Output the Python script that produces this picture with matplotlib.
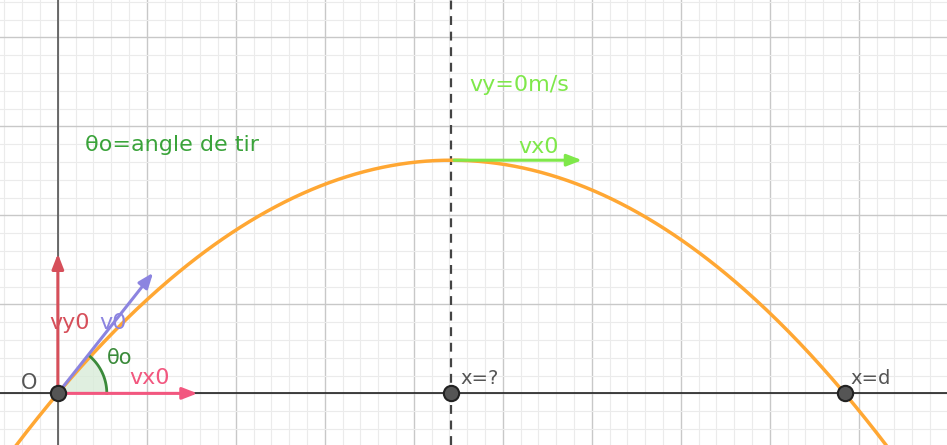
import numpy as np
import matplotlib.pyplot as plt
from matplotlib.patches import Wedge

# trajectoire (unites de grille)
portee = 8.84
hauteur_max = 2.62
x_sommet = portee / 2
vx0_bout = (1.6, 0.0)
vy0_bout = (0.0, 1.6)
v0_bout = (1.09, 1.38)
vx0_sommet_long = 1.5
points_x = [0.0, x_sommet, portee]

fig = plt.figure(figsize=(9.47, 4.45), dpi=100)
ax = fig.add_axes([0, 0, 1, 1])
ax.set_xlim(-0.65, 9.99)
ax.set_ylim(-0.58, 4.42)
ax.axis("off")

# grille
for gx in np.arange(-0.6, 10.0, 0.2):
    maj = abs(gx - round(gx)) < 1e-6
    ax.axvline(gx, color="#c8c8c8" if maj else "#ebebeb", lw=1.0 if maj else 0.8, zorder=0)
for gy in np.arange(-0.6, 4.6, 0.2):
    maj = abs(gy - round(gy)) < 1e-6
    ax.axhline(gy, color="#c8c8c8" if maj else "#ebebeb", lw=1.0 if maj else 0.8, zorder=0)
ax.axhline(0, color="#222222", lw=1.2, zorder=1)
ax.axvline(0, color="#555555", lw=1.2, zorder=1)

# parabole
xs = np.linspace(-0.6, 9.3, 400)
ys = 4 * hauteur_max * xs * (portee - xs) / portee**2
ax.plot(xs, ys, color="#ffa733", lw=2.5, zorder=3)

ax.axvline(x_sommet, color="#444444", lw=1.6, ls=(0, (4, 3)), zorder=2)

def fleche(x0, y0, x1, y1, c):
    ax.annotate("", xy=(x1, y1), xytext=(x0, y0),
                arrowprops=dict(arrowstyle="-|>,head_length=0.9,head_width=0.35", color=c, lw=2.2), zorder=4)

angle = np.degrees(np.arctan2(4 * hauteur_max / portee, 1))
ax.add_patch(Wedge((0, 0), 0.55, 0, angle, facecolor="#d9ecd9", edgecolor="none", alpha=0.8, zorder=2))
tt = np.linspace(0, np.radians(angle), 50)
ax.plot(0.55 * np.cos(tt), 0.55 * np.sin(tt), color="#3a8a3a", lw=2, zorder=3)

fleche(0, 0, *vx0_bout, "#f2577f")
fleche(0, 0, *vy0_bout, "#d64f5a")
fleche(0, 0, *v0_bout, "#8c84e0")
fleche(x_sommet, hauteur_max, x_sommet + vx0_sommet_long, hauteur_max, "#7fe84a")

for px in points_x:
    ax.plot(px, 0, "o", ms=11, mfc="#555555", mec="#222222", mew=1.5, zorder=5)

ax.text(-0.42, 0.05, "O", fontsize=15, color="#555555")
ax.text(x_sommet + 0.1, 0.1, "x=?", fontsize=14, color="#555555")
ax.text(portee + 0.07, 0.1, "x=d", fontsize=14, color="#555555")
ax.text(0.8, 0.1, "vx0", fontsize=16, color="#f2577f")
ax.text(-0.1, 0.72, "vy0", fontsize=16, color="#d64f5a")
ax.text(0.47, 0.72, "v0", fontsize=16, color="#8c84e0")
ax.text(0.55, 0.33, "θo", fontsize=15, color="#3a8a3a")
ax.text(0.3, 2.72, "θo=angle de tir", fontsize=16, color="#3aa33a")
ax.text(x_sommet + 0.2, 3.4, "vy=0m/s", fontsize=16, color="#7fe84a")
ax.text(x_sommet + 0.75, 2.7, "vx0", fontsize=16, color="#7fe84a")

fig.savefig("out.png", dpi=100)
